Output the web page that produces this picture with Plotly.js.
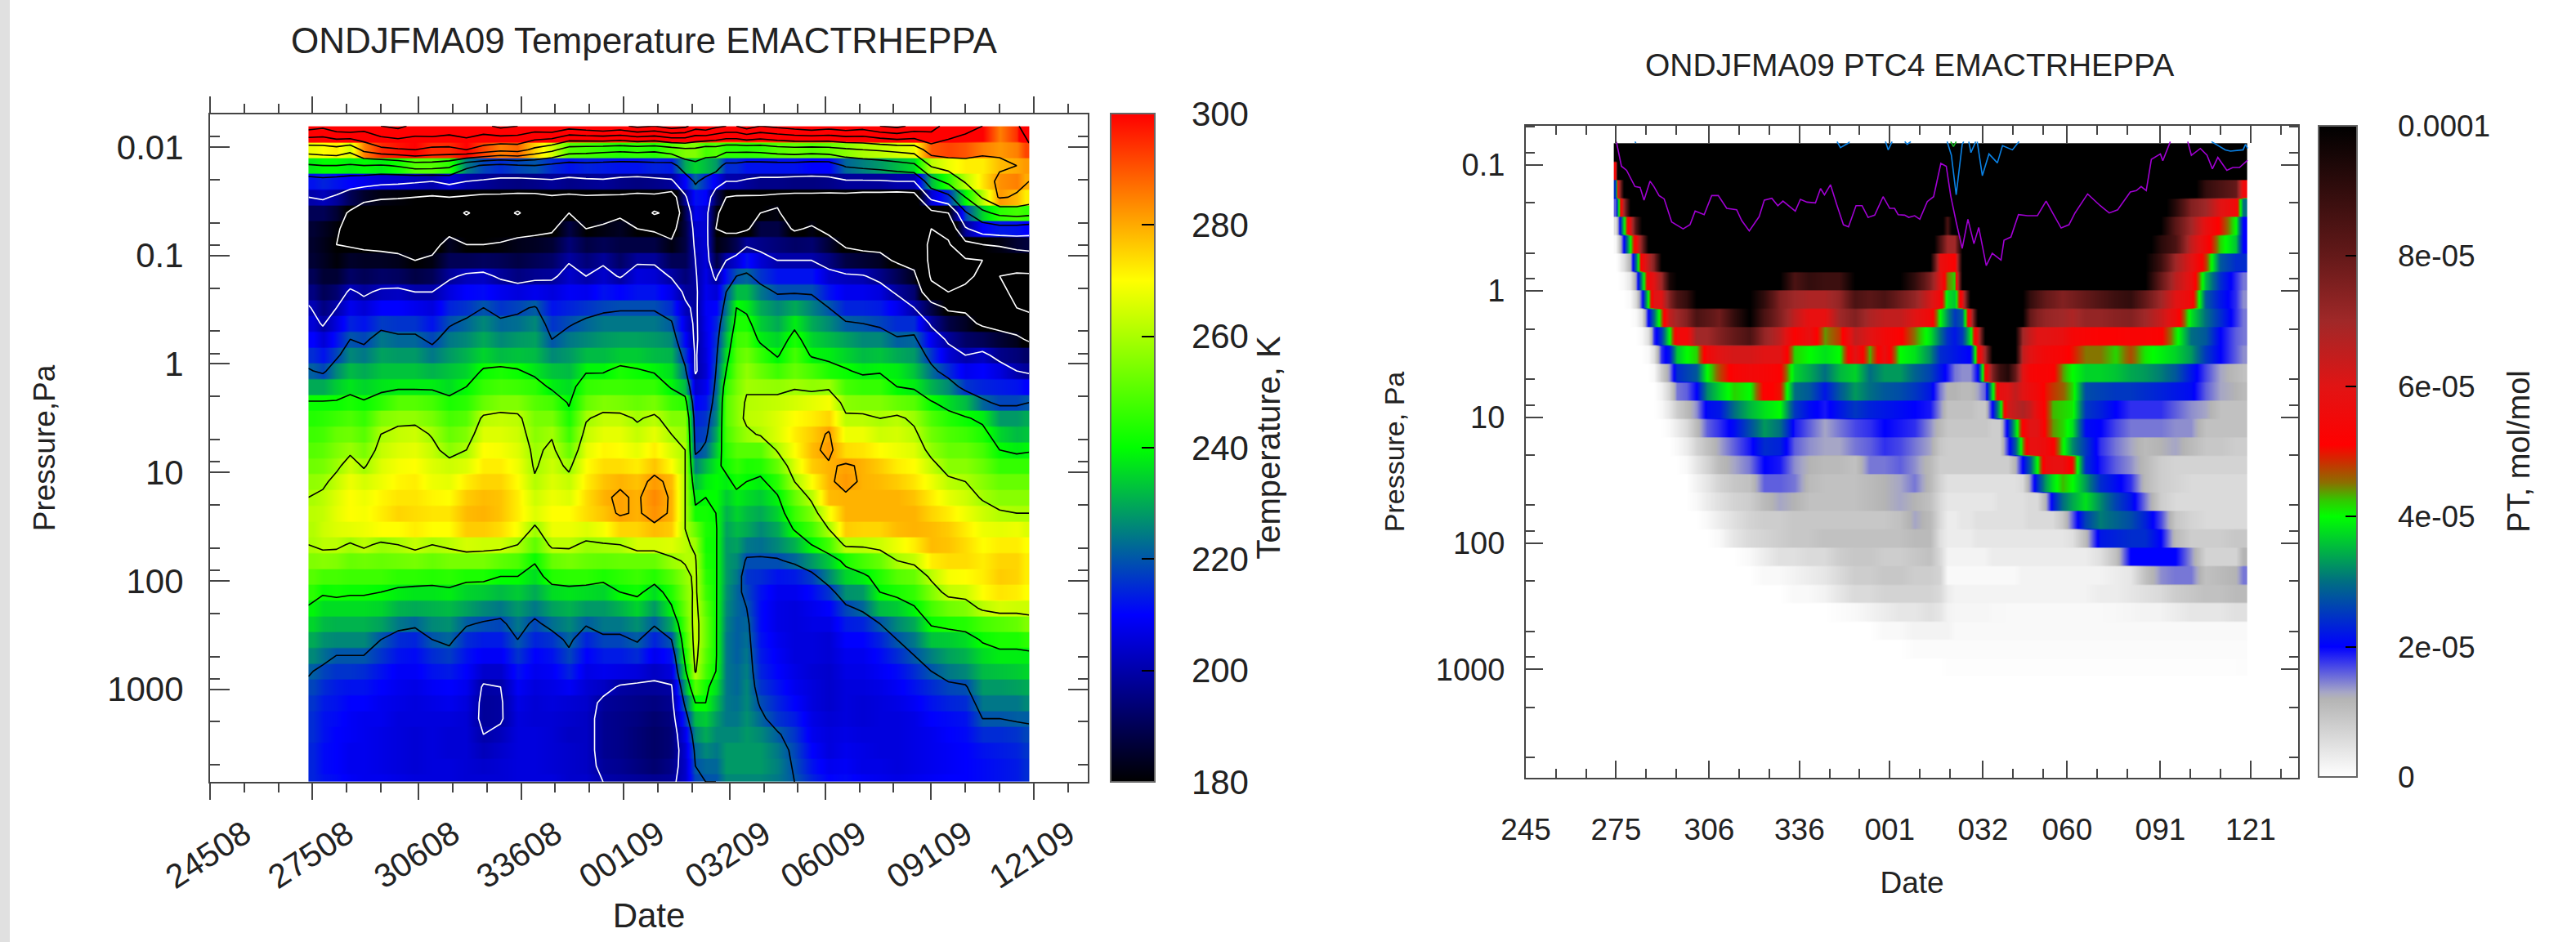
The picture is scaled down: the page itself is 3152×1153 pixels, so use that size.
<!DOCTYPE html>
<html><head><meta charset="utf-8">
<script src="https://cdn.plot.ly/plotly-3.0.1.min.js"></script>
<style>html,body{margin:0;padding:0;background:#fff}</style></head>
<body><div id="chart" style="width:3152px;height:1153px"></div>
<script>
// ---------- shared axis labels ----------
const tickDays=[245,275,306,336,366,397,425,456,486];
const leftDateLabels=['24508','27508','30608','33608','00109','03209','06009','09109','12109'];
const rightDateLabels=['245','275','306','336','001','032','060','091','121'];
const minorDays=[255,265,285,295,316,326,346,356,376,386,407,417,435,445,466,476,496];
const pressureTicks=[0.01,0.1,1,10,100,1000];
const pressureTickLabels=['0.01','0.1','1','10','100','1000'];
const pressureMinor=[0.005,0.008,0.02,0.05,0.08,0.2,0.5,0.8,2,5,8,20,50,80,200,500,800,2000,5000];
// model level cell edges and centres (Pa)
const levelEdges=[0.0064,0.00895,0.01252,0.01752,0.02451,0.03428,0.04794,0.06706,0.0938,0.1312,0.1835,0.2567,0.359,0.5023,0.7025,0.9826,1.374,1.923,2.689,3.762,5.262,7.36,10.29,14.4,20.14,28.17,39.41,55.12,77.09,107.8,150.8,211,295.1,412.8,577.5,807.6,1130,1580,2210,3092,4325,6050,7161];
const levelCentres=[0.0064,0.01059,0.01482,0.02072,0.02899,0.04054,0.0567,0.0793,0.1109,0.1551,0.217,0.3035,0.4246,0.5938,0.8307,1.162,1.625,2.273,3.18,4.447,6.223,8.704,12.17,17.03,23.82,33.31,46.6,65.18,91.2,127.5,178.4,249.5,349,488.1,682.8,955,1336,1869,2614,3656,5114,7161];
// ---------- left panel: temperature, one vertical profile per day ----------
const tempDays=[275.2,278,282,286,290,295,300,305,310,315,320,325,330,335,340,345,350,355,360,365,370,375,380,384,387,390,393,396,399,402,406,411,416,421,426,431,436,441,446,451,456,461,466,471,476,481,483.4];
const tempProfiles=[
[330,268,238,212,200,190,186,185,186,190,195,201,205,210,215,221,230,241,244,247,250,253,257,260,262,261,260,255,250,245,239,235,230,226,221,218,216,215,215,214,214,214],
[325,270,240,214,202,190,184,183,184,186,190,195,199,205,212,218,230,241,245,248,251,254,258,262,263,264,262,256,248,241,236,232,227,223,218,215,213,212,212,211,211,212],
[335,272,240,212,198,186,181,180,181,186,193,200,206,212,218,226,234,241,247,252,255,258,263,266,267,266,262,255,248,242,236,231,226,220,216,213,212,211,210,210,210,211],
[340,265,238,210,190,178,177,179,185,192,202,208,214,220,226,232,237,243,249,253,258,264,268,270,270,267,259,252,247,241,236,231,226,220,216,212,210,209,209,208,208,209],
[330,285,240,208,185,170,172,178,184,190,198,205,212,218,224,230,235,241,246,250,254,259,265,268,269,268,262,253,247,241,236,231,226,220,215,212,210,208,208,208,208,208],
[340,295,238,205,182,168,172,177,184,192,202,210,217,224,229,233,237,245,255,260,263,266,268,271,272,270,258,252,247,240,235,229,220,216,212,210,208,208,207,207,207,208],
[345,298,242,204,181,170,173,176,183,191,203,210,216,222,228,233,238,250,257,263,266,269,271,273,275,270,260,253,245,238,231,224,215,212,209,208,207,206,206,206,206,207],
[335,300,250,202,180,170,172,176,180,188,200,208,216,222,228,233,238,250,257,264,267,270,272,273,274,272,263,254,245,237,230,222,214,211,209,207,206,206,205,205,205,206],
[340,295,250,200,178,168,172,176,182,190,200,206,212,218,224,231,238,248,254,259,263,266,268,271,273,270,260,252,244,237,231,226,220,215,212,209,207,206,206,206,206,206],
[335,295,245,205,180,170,176,184,190,198,206,214,219,224,228,233,236,243,248,252,256,264,267,270,273,270,262,254,245,238,232,227,222,217,213,210,208,206,205,205,206,206],
[340,300,225,200,178,158,174,180,190,202,210,216,222,226,231,235,240,245,250,255,260,266,272,276,278,276,265,254,243,235,229,221,215,212,210,208,206,205,205,205,205,205],
[335,292,218,198,176,168,172,180,191,203,211,220,226,230,235,241,246,252,262,266,270,272,275,278,279,276,264,254,243,234,226,219,213,209,204,199,198,198,200,202,204,205],
[345,285,215,196,176,168,174,181,190,198,208,216,222,226,232,243,248,255,263,266,269,272,275,277,277,274,264,251,240,232,224,218,213,209,204,200,199,199,202,204,205,205],
[340,288,218,195,175,158,176,183,188,195,206,218,223,228,233,241,247,255,262,264,266,268,270,272,272,269,260,249,240,234,228,224,220,216,212,209,207,206,206,206,206,206],
[335,275,220,196,175,170,177,184,190,197,208,221,226,229,232,237,245,250,254,256,258,259,261,264,266,258,251,241,236,230,224,218,214,210,208,206,205,205,206,206,206,206],
[340,265,215,198,178,170,178,186,192,198,206,212,216,220,226,233,238,248,254,259,262,264,266,268,270,268,262,252,244,236,229,223,216,212,209,207,206,205,205,205,205,206],
[330,250,212,196,176,180,188,194,199,204,209,214,219,224,228,232,236,239,243,247,252,258,263,266,270,268,262,254,245,237,231,226,222,218,214,209,205,204,203,204,204,204],
[335,248,214,197,178,170,180,188,194,200,208,216,222,226,232,239,246,252,259,263,267,270,272,274,274,266,258,252,245,236,228,221,214,210,207,205,204,203,203,203,203,204],
[340,246,213,198,177,175,182,190,198,204,212,218,224,228,232,239,247,255,263,267,271,274,277,279,277,269,259,251,243,235,228,224,218,213,208,203,198,197,197,197,198,200],
[335,244,212,196,177,178,184,188,192,199,210,219,224,229,234,243,247,254,263,267,270,274,279,281,281,275,260,252,245,240,231,224,218,213,207,199,197,196,196,196,197,199],
[345,246,212,195,175,172,180,188,198,206,212,219,224,229,234,241,246,252,259,263,267,272,277,279,279,275,265,252,247,242,235,227,221,215,206,198,196,195,194,194,195,198],
[340,244,214,196,176,158,178,188,198,205,212,219,224,228,232,239,246,254,262,267,272,277,282,284,283,278,265,252,244,236,228,221,214,208,203,198,195,193,192,192,193,197],
[350,250,213,198,170,165,176,182,190,199,207,215,221,226,231,236,239,247,255,260,265,270,278,279,279,276,266,258,250,244,239,230,220,212,206,199,197,195,194,194,196,198],
[345,255,230,210,198,190,188,188,190,194,198,202,206,210,216,222,232,245,255,258,260,260,260,260,260,260,262,261,257,255,253,250,247,243,238,230,222,215,208,205,204,204],
[330,255,235,222,212,208,204,202,200,199,198,198,198,198,199,199,204,210,214,216,218,225,232,238,242,252,258,261,262,262,263,264,264,263,261,250,240,232,226,222,220,218],
[335,248,232,215,210,205,205,205,206,207,208,209,208,207,206,205,208,212,216,218,222,232,238,240,242,243,242,243,245,247,250,252,252,250,248,242,240,234,230,226,222,220],
[325,250,228,208,190,182,180,182,188,198,205,210,214,216,218,220,222,224,226,230,234,238,240,240,240,241,241,241,241,241,241,241,241,241,240,236,232,228,226,224,222,220],
[320,245,215,200,180,175,178,185,200,212,220,224,228,232,236,240,246,250,250,248,245,242,238,234,231,229,228,228,228,227,226,225,224,224,224,224,224,224,226,228,228,226],
[320,245,215,200,178,170,176,190,205,220,232,240,243,247,250,252,254,256,256,254,250,246,242,238,235,232,229,226,224,222,222,221,221,221,222,222,223,224,226,228,228,226],
[330,245,212,198,178,170,178,198,212,222,232,238,243,248,253,257,259,261,262,258,250,243,240,236,232,230,224,219,216,218,220,222,223,224,225,226,226,227,228,228,228,226],
[320,246,212,196,178,180,188,196,205,216,224,230,234,238,246,252,258,262,263,261,250,244,238,234,230,226,223,219,215,212,211,211,212,213,214,216,219,222,226,228,228,226],
[325,250,212,196,176,182,188,194,200,212,219,226,230,235,239,247,257,263,266,266,261,252,245,239,235,230,226,219,212,208,207,207,208,209,210,212,214,216,221,224,225,224],
[330,252,212,195,175,170,178,192,200,212,219,230,238,243,248,252,259,265,270,272,270,266,260,252,247,241,231,222,213,208,206,206,206,206,207,208,210,213,216,218,219,220],
[335,250,210,195,175,172,182,193,200,212,219,225,230,235,239,248,257,267,272,276,278,276,270,262,255,248,240,228,217,211,208,207,206,206,205,206,206,207,208,210,212,214],
[330,252,210,196,174,168,176,186,195,204,212,220,226,232,238,243,258,269,275,281,282,279,279,278,269,260,248,234,226,216,210,207,205,205,204,204,204,205,206,206,208,210],
[335,256,222,198,174,168,174,178,188,202,208,214,221,229,235,241,248,256,262,268,274,281,282,279,279,276,262,243,235,227,218,213,210,208,207,206,206,206,207,208,209,211],
[330,260,225,198,172,166,172,176,186,201,208,214,220,226,232,238,246,255,262,268,273,279,279,279,279,275,262,248,238,228,222,214,210,208,207,206,205,205,206,207,207,209],
[340,262,228,198,172,165,170,176,184,196,206,213,218,226,233,239,246,255,260,264,270,276,278,279,279,275,264,252,244,240,232,220,214,211,209,207,206,206,206,206,207,208],
[345,265,232,200,170,165,168,172,178,190,198,208,215,221,230,238,240,252,262,265,268,272,276,279,279,278,268,260,250,243,234,226,220,215,211,209,207,206,206,206,206,207],
[335,268,236,200,172,165,162,170,175,183,193,200,215,222,228,233,238,250,258,262,266,270,273,277,279,279,272,263,252,246,239,230,224,220,215,212,209,207,207,207,207,208],
[330,290,262,232,205,175,160,157,156,158,165,188,198,208,216,223,231,241,249,253,257,263,268,272,275,278,278,272,262,255,248,241,233,225,220,215,212,210,208,208,208,209],
[310,292,268,245,215,180,165,158,155,156,160,178,188,198,205,215,226,236,244,249,252,256,262,267,272,276,277,274,269,263,253,243,234,229,224,218,214,211,210,209,209,210],
[305,290,272,262,240,218,198,175,158,158,162,178,184,192,200,208,216,232,241,247,252,256,260,264,268,272,274,274,270,264,255,244,236,231,226,219,215,212,211,210,210,210],
[300,285,272,273,262,235,210,180,160,162,165,168,178,190,203,210,214,222,238,243,248,252,256,259,264,268,270,272,272,270,262,248,241,236,232,228,224,220,215,212,211,211],
[285,282,278,283,282,245,213,182,165,160,162,166,175,186,196,206,213,218,228,235,240,246,252,256,261,267,272,275,276,273,265,250,243,238,233,228,224,220,215,213,212,212],
[295,285,280,285,278,248,212,186,168,158,158,160,172,183,194,200,212,218,228,232,238,246,252,256,260,268,272,275,275,272,264,252,243,238,234,229,224,221,216,214,213,213],
[320,292,282,280,272,246,210,187,170,158,156,158,165,178,192,198,210,220,230,233,239,246,252,256,260,266,270,272,272,270,264,255,245,238,235,230,226,221,218,216,215,215]
];
const tempColours=[[0,'#000000'],[0.25,'#0000ff'],[0.5,'#00ff00'],[0.75,'#ffff00'],[1,'#ff0000']];
const tempBarTicks=[180,200,220,240,260,280,300];
// ---------- right panel: PT in units of 1e-6 mol/mol, one row per level, from level 7 down ----------
const ptDays=[274.7,275.6,277.6,279.6,281.6,283.6,285.6,287.6,290.1,292.6,295.1,298.5,301.8,305.1,309.3,314.3,319.3,324.3,329.3,334.3,339.3,344.3,349.3,354.3,359.3,364.3,369.3,374.3,379.3,382.6,385.1,387.6,390.1,392.6,395.1,397.6,400.1,402.6,405.1,407.6,410.1,412.6,415.1,417.6,420.1,423.4,426.8,431,436,441,446,451,456,461,466,471,476,481,483.5];
const ptMicro=[
[120,120,120,120,120,120,120,120,120,120,120, 120,120,120,120,120,120,120,120,120,120,120,120,120,120,120,120,120,120, 120,120,120,120,120,120,120,120,120,120,120,120,120,120,120,120, 120,120,120,120,120,120,120,120,120,120,120,120,120,120],
[55,120,120,120,120,120,120,120,120,120,120, 120,120,120,120,120,120,120,120,120,120,120,120,120,120,120,120,120,120, 120,120,120,120,120,120,120,120,120,120,120,120,120,120,120,120, 120,120,120,120,120,120,120,120,120,120,120,120,120,120],
[25,60,100,110,110,110,110,110,110,110,110, 120,120,120,120,120,120,120,120,120,120,120,120,120,120,120,120,120,120, 120,120,120,120,120,120,120,120,120,120,120,120,120,120,120,120, 120,120,120,120,120,120,120,120,110,105,90,85,80,55],
[16,35,70,100,110,110,110,110,110,110,110, 120,120,120,120,120,120,120,120,120,120,120,120,120,120,120,120,120,120, 120,120,120,120,120,120,120,120,120,120,120,120,120,120,120,120, 115,115,115,115,115,115,110,105,92,75,70,60,55,30],
[5,14,38,60,85,100,110,110,110,110,110, 120,120,120,120,120,120,120,120,120,120,120,120,120,120,120,120,120,120, 110,85,110,115,115,115,115,115,115,115,115,115,115,115,115,115, 115,115,115,115,115,115,110,100,82,70,58,50,40,20],
[1,6,20,40,55,75,100,110,110,110,110, 110,110,110,110,110,110,110,110,110,110,110,110,110,110,110,110,110,110, 85,70,70,100,110,110,110,110,110,110,110,110,110,110,110,110, 110,110,110,110,110,110,105,92,85,65,55,42,36,20],
[0,1,5,12,30,55,65,75,100,110,110, 110,110,110,110,110,110,110,110,110,110,110,110,110,110,110,110,110,100, 58,55,52,100,110,110,110,110,110,110,110,110,110,110,110,110, 110,110,110,110,110,110,100,88,70,60,48,28,24,24],
[0,0,1,4,14,33,55,60,70,95,100, 105,110,110,110,110,110,105,100,85,90,88,88,100,100,100,100,90,75, 60,45,42,100,110,110,110,110,110,110,110,110,110,110,110,110, 110,110,108,105,105,105,100,80,66,58,35,24,18,15],
[0,0,0,1,6,18,40,60,60,75,85, 90,100,100,100,100,100,90,75,70,68,68,72,85,82,85,78,72,62, 55,38,36,58,100,110,110,110,110,110,110,100,90,85,80,78, 75,77,80,84,88,90,80,70,60,55,28,22,18,14],
[0,0,0,0,1,5,20,30,45,65,70, 75,85,82,78,90,100,85,75,65,58,58,70,75,68,65,65,60,55, 40,32,25,28,60,100,110,110,110,110,105,100,80,75,72,71, 70,68,72,72,74,75,70,64,56,38,30,24,18,15],
[0,0,0,0,0,1,5,18,25,40,55, 55,70,70,75,80,85,72,65,52,58,44,48,65,60,55,52,45,38, 30,24,22,25,38,60,100,110,110,110,100,70,64,60,60,59, 58,54,53,52,52,53,53,52,42,30,28,20,16,15],
[0,0,0,0,0,0,1,5,18,22,36, 40,42,55,60,62,62,60,60,42,40,38,40,60,43,58,40,38,32, 24,23,22,21,20,50,70,100,105,105,100,65,60,57,55,54, 53,50,45,45,42,47,41,39,37,33,25,20,16,14],
[0,0,0,0,0,0,0,1,8,14,24, 26,28,40,47,53,55,54,52,37,34,30,35,37,30,33,33,29,26, 22,19,15,14,14,20,50,75,88,93,80,60,54,53,53,52, 44,40,37,37,36,34,33,31,28,22,17,13,11,10],
[0,0,0,0,0,0,0,0,2,7,15, 16,20,32,37,42,40,52,50,30,28,22,28,33,30,28,27,25,22, 15,12,12,11,11,13,16,38,58,60,65,60,57,55,50,48, 46,42,27,26,25,25,24,23,22,21,16,13,12,11],
[0,0,0,0,0,0,0,0,1,4,8, 11,14,21,22,30,35,38,40,25,21,19,22,25,23,22,21,20,19, 14,10,10,10,10,9,9,20,36,62,65,68,64,57,50,43, 42,41,25,23,20,18,18,18,16,14,13,10,10,10],
[0,0,0,0,0,0,0,0,0,1,3, 6,11,16,18,21,27,33,30,19,16,13,15,17,18,20,19,18,14, 11,9,9,9,9,9,9,8,8,22,36,52,60,60,50,44, 42,38,21,20,17,15,15,15,14,14,10,10,10,10],
[0,0,0,0,0,0,0,0,0,0,1, 3,7,10,13,16,19,24,23,16,14,13,13,15,16,18,17,15,13, 9,8,8,8,8,8,8,8,8,18,28,44,58,58,56,52, 41,32,25,18,15,13,11,12,13,11,9,9,8,8],
[0,0,0,0,0,0,0,0,0,0,0, 1,4,7,11,13,15,20,19,14,12,11,11,10,15,15,16,14,11, 8,8,8,8,8,8,8,8,8,8,12,20,28,40,56,58, 58,50,24,19,16,14,11,8,7,7,7,7,7,7],
[0,0,0,0,0,0,0,0,0,0,0, 0,2,4,7,9,10,16,16,15,11,10,10,10,11,12,13,15,11, 7,5,5,5,5,5,5,5,5,5,5,6,14,24,33,38, 43,40,33,24,21,18,11,8,7,6,6,6,6,6],
[0,0,0,0,0,0,0,0,0,0,0, 0,1,3,5,7,8,11,13,12,10,10,10,10,11,12,13,12,10, 6,4,4,4,4,4,4,4,5,5,5,5,6,6,12,22, 30,34,38,32,26,22,15,8,6,6,6,6,6,6],
[0,0,0,0,0,0,0,0,0,0,0, 0,0,1,3,5,7,8,8,9,9,9,9,9,9,9,10,13,11, 6,3,3,4,4,5,5,5,5,5,5,5,6,6,6,6, 9,16,26,31,29,27,23,17,9,7,6,6,6,6],
[0,0,0,0,0,0,0,0,0,0,0, 0,0,0,1,4,6,7,8,9,9,10,10,10,10,10,10,11,11, 5,3,3,3,3,4,4,4,4,4,4,4,4,4,4,4, 4,5,11,22,23,24,24,20,11,8,8,8,9,9],
[0,0,0,0,0,0,0,0,0,0,0, 0,0,0,0,0,1,3,5,5,6,6,8,9,9,8,8,9,10, 6,2,2,2,2,2,2,3,3,3,3,3,3,3,3,3, 3,3,3,5,10,20,20,20,20,14,7,7,7,12],
[0,0,0,0,0,0,0,0,0,0,0, 0,0,0,0,0,0,1,1,2,3,4,6,8,8,9,9,8,8, 7,1,1,1,1,1,1,1,1,1,1,2,2,2,2,2, 2,2,2,2,3,4,10,14,15,15,10,11,12,15],
[0,0,0,0,0,0,0,0,0,0,0, 0,0,0,0,0,0,0,0,1,1,2,4,6,6,7,7,7,7, 6,3,2,2,2,2,2,2,2,2,2,2,2,2,2,2, 2,2,2,3,3,4,5,6,8,9,10,10,11,11],
[0,0,0,0,0,0,0,0,0,0,0, 0,0,0,0,0,0,0,0,0,0,0,0.5,1,2,3,4,4,5, 4,2,1.5,1.5,1.5,1.5,1.5,1.2,1.2,1,1,1,1,1,1,1, 1,1,1,1,1.2,1.5,2,2,3,4,4,4,5,5],
[0,0,0,0,0,0,0,0,0,0,0, 0,0,0,0,0,0,0,0,0,0,0,0,0,0,1,1,2,2, 2,2,1,1,1,1,1,1,1,1,1,1,1,1,1,1, 1,1,1,1,1,1,1,1,1,1,1,1,1,1],
[0,0,0,0,0,0,0,0,0,0,0, 0,0,0,0,0,0,0,0,0,0,0,0,0,0,0,0,0.6,0.6, 0.6,0.6,0.6,0.6,0.6,0.6,0.6,0.6,0.6,0.6,0.6,0.6,0.6,0.6,0.6,0.6, 0.6,0.6,0.6,0.6,0.6,0.6,0.6,0.6,0.6,0.6,0.6,0.6,0.6,0.7],
[0,0,0,0,0,0,0,0,0,0,0, 0,0,0,0,0,0,0,0,0,0,0,0,0,0,0,0,0,0, 0,0.3,0.4,0.4,0.4,0.4,0.4,0.4,0.4,0.4,0.4,0.4,0.4,0.4,0.4,0.4, 0.4,0.4,0.4,0.4,0.4,0.4,0.4,0.4,0.4,0.4,0.4,0.4,0.4,0.5]
];
const ptFirstLevel=7;
const ptColours=[[0,'#ffffff'],[0.12,'#b4b4b4'],[0.13,'#a6a6c6'],[0.2,'#0000ff'],[0.3,'#006e82'],[0.4,'#00ff00'],[0.425,'#32c800'],[0.452,'#8c6e00'],[0.482,'#c83200'],[0.51,'#ff0000'],[0.6,'#e11414'],[0.7,'#a02828'],[0.8,'#641919'],[1,'#000000']];
const ptBarTicks=[0,2e-5,4e-5,6e-5,8e-5,1e-4];
const ptBarLabels=['0','2e-05','4e-05','6e-05','8e-05','0.0001'];
// contour lines of PT above the colour range
const purpleDay=[275.1,276.8,278.5,281.3,283,284.3,286.3,287.6,289.3,291,293.5,297.3,299.6,301.3,304.3,306.8,309,311.8,315.1,316.8,319.3,322.6,324.3,326.8,328.8,330.5,333.5,334.6,336.3,338.5,341.3,343,344.3,346.3,348.5,350.6,352.3,354.8,356.8,358.8,361,363.8,366,367.6,368.8,371,372.3,374.3,376,378.5,380.6,383,384.8,386.3,388.1,390.1,392,394,395.6,398.1,400.1,403,404,406.3,408.8,411.8,415.1,418,420.1,423,425.6,427.6,431.8,436,439,441.8,446,448,449.6,451.3,453,456,456.8,459.3,null,465.1,466.3,469.3,471.5,473.3,475.1,478.1,480.1,482.3,485];
const purpleP=[0.0655,0.1026,0.1105,0.1488,0.151,0.1908,0.1347,0.1488,0.1754,0.1862,0.2841,0.3217,0.2985,0.2328,0.2483,0.1754,0.1754,0.2215,0.2271,0.2771,0.3346,0.2571,0.1908,0.1843,0.2108,0.1937,0.2215,0.2328,0.188,0.1976,0.2005,0.1541,0.1728,0.1438,0.2108,0.2985,0.3106,0.2108,0.2108,0.261,0.2508,0.1789,0.2215,0.2215,0.2483,0.2508,0.261,0.2533,0.2703,0.1956,0.1789,0.0975,0.1026,0.1771,0.2841,0.46,0.2703,0.4227,0.3137,0.629,0.5028,0.5696,0.3963,0.3733,0.2483,0.2533,0.2533,0.1937,0.2386,0.3169,0.2985,0.241,0.1702,0.2108,0.241,0.2271,0.1644,0.1603,0.1488,0.1603,0.0905,0.082,0.0928,0.0655,null,0.0655,0.084,0.0742,0.084,0.1077,0.0874,0.1105,0.1051,0.1051,0.0919];
const blueDay=[281.3,281.6,null,348.5,349.6,352.3,352.6,null,364.6,365.5,366.8,null,371,371.8,373,null,385.1,386.5,388.1,390.1,390.6,null,392.3,393,394.6,null,395.1,396.8,399,401.8,403.5,406.8,409,null,473,477.6,479.3,483.5,484.3,485];
const blueP=[0.0655,0.0672,null,0.0655,0.0731,0.0672,0.0655,null,0.0655,0.0761,0.0655,null,0.0655,0.0689,0.0655,null,0.0655,0.084,0.1728,0.0689,0.0655,null,0.0655,0.08,0.0655,null,0.0655,0.122,0.082,0.0966,0.0706,0.0761,0.0655,null,0.0655,0.0761,0.078,0.0761,0.0689,0.0742];
const greenDay=[386.3,387.2,388.1];
const greenP=[0.0655,0.0717,0.0655];

// ---------- build heatmap grids: cells flat in height, smooth in time ----------
function stepRows(rows,edges){
  const f=1.012,y=[],z=[];
  rows.forEach((row,i)=>{
    y.push(edges[i]*f,edges[i]*f*f,edges[i+1]/(f*f),edges[i+1]/f);
    z.push(row,row,row,row);
  });
  return {y,z};
}
const tempRows=levelCentres.map((_,r)=>tempProfiles.map(p=>p[r]));
const leftGrid=stepRows(tempRows,levelEdges);
const ptRows=ptMicro.map(r=>r.map(v=>v*1e-6));
const rightGrid=stepRows(ptRows,levelEdges.slice(ptFirstLevel));
const contourDays=tempDays.slice();contourDays[0]=273.8;contourDays[contourDays.length-1]=484.6;

const ink='#222222',frame='#444444',W=3152,H=1153;
const lead='\u00a0\u00a0\u00a0\u00a0',sp4=lead;
const px=(a,b)=>[a/W,b/W],py=(top,bot)=>[1-bot/H,1-top/H];
function xAxis(o){return Object.assign({range:[245,501.8],tickmode:'array',tickvals:tickDays,showgrid:false,zeroline:false,showline:true,linecolor:frame,linewidth:2,mirror:'ticks',tickcolor:frame,tickwidth:2},o);}
function yAxis(o){return Object.assign({type:'log',tickmode:'array',tickvals:pressureTicks,ticktext:pressureTickLabels,showgrid:false,zeroline:false,showline:true,linecolor:frame,linewidth:2,mirror:'ticks',ticks:'inside',tickcolor:frame,tickwidth:2},o);}
const traces=[
 {type:'heatmap',x:tempDays,y:leftGrid.y,z:leftGrid.z,zsmooth:'best',zmin:180,zmax:300,colorscale:tempColours,hoverinfo:'skip',xaxis:'x',yaxis:'y',
  colorbar:{x:1359/W,xanchor:'left',y:1-957/H,yanchor:'bottom',len:818,lenmode:'pixels',thickness:54,thicknessmode:'pixels',xpad:0,ypad:0,outlinecolor:'#666',outlinewidth:2,borderwidth:0,
   tickmode:'array',tickvals:tempBarTicks,ticktext:tempBarTicks.map(v=>'\u00a0\u00a0\u00a0'+v),ticks:'inside',ticklen:17,tickwidth:1.5,tickcolor:'#000',tickfont:{family:'Liberation Sans',size:42,color:ink},
   title:{text:'Temperature, K',side:'right',font:{family:'Liberation Sans',size:40,color:ink}}}},
 {type:'contour',x:contourDays,y:levelCentres,z:tempRows,showscale:false,autocontour:false,contours:{coloring:'none',start:120,end:200,size:20},line:{color:'#ffffff',width:1.6,smoothing:0},hoverinfo:'skip',xaxis:'x',yaxis:'y'},
 {type:'contour',x:contourDays,y:levelCentres,z:tempRows,showscale:false,autocontour:false,contours:{coloring:'none',start:220,end:380,size:20},line:{color:'#000000',width:1.6,smoothing:0},hoverinfo:'skip',xaxis:'x',yaxis:'y'},
 {type:'heatmap',x:ptDays,y:rightGrid.y,z:rightGrid.z,zsmooth:'best',zmin:0,zmax:1e-4,colorscale:ptColours,hoverinfo:'skip',xaxis:'x2',yaxis:'y2',
  colorbar:{x:2837/W,xanchor:'left',y:1-951/H,yanchor:'bottom',len:797,lenmode:'pixels',thickness:47,thicknessmode:'pixels',xpad:0,ypad:0,outlinecolor:'#666',outlinewidth:2,borderwidth:0,
   tickmode:'array',tickvals:ptBarTicks,ticktext:ptBarLabels.map(v=>'\u00a0\u00a0\u00a0\u00a0'+v+'\u00a0\u00a0\u00a0'),ticks:'inside',ticklen:15,tickwidth:1.5,tickcolor:'#000',tickfont:{family:'Liberation Sans',size:37,color:ink},
   title:{text:'PT, mol/mol',side:'right',font:{family:'Liberation Sans',size:38,color:ink}}}},
 {type:'scatter',mode:'lines',x:purpleDay,y:purpleP,line:{color:'#a000d2',width:1.6},hoverinfo:'skip',showlegend:false,xaxis:'x2',yaxis:'y2'},
 {type:'scatter',mode:'lines',x:blueDay,y:blueP,line:{color:'#0a82e6',width:1.6},hoverinfo:'skip',showlegend:false,xaxis:'x2',yaxis:'y2'},
 {type:'scatter',mode:'lines',x:greenDay,y:greenP,line:{color:'#14b41e',width:1.6},hoverinfo:'skip',showlegend:false,xaxis:'x2',yaxis:'y2'}
];
const layout={
 width:W,height:H,margin:{l:0,r:0,t:0,b:0},paper_bgcolor:'#ffffff',plot_bgcolor:'#ffffff',showlegend:false,
 font:{family:'Liberation Sans',color:ink},
 title:{text:'ONDJFMA09 Temperature EMACTRHEPPA',x:788/W,xref:'paper',xanchor:'center',y:1-50/H,yref:'paper',yanchor:'middle',font:{family:'Liberation Sans',size:44,color:ink}},
 xaxis:xAxis({domain:px(257,1331),anchor:'y',ticktext:leftDateLabels,ticks:'outside',ticklen:20,tickangle:-33,tickfont:{size:41,color:ink},ticklabelshift:42,ticklabelstandoff:2,
   minor:{tickmode:'array',tickvals:minorDays,ticks:'outside',ticklen:11,tickcolor:frame,tickwidth:2,showgrid:false},
   title:{text:'Date',font:{size:42,color:ink},standoff:0}}),
 yaxis:yAxis({domain:py(140,957),anchor:'x',range:[3.855,-2.3014],ticklen:24,tickfont:{size:42,color:ink},ticklabelstandoff:22,
   minor:{tickmode:'array',tickvals:pressureMinor,ticks:'inside',ticklen:12,tickcolor:frame,tickwidth:2,showgrid:false},
   title:{text:lead+'Pressure,Pa',font:{size:37,color:ink},standoff:52}}),
 xaxis2:xAxis({domain:px(1867,2812),anchor:'y2',ticktext:rightDateLabels,ticks:'inside',ticklen:21,tickangle:0,tickfont:{size:37,color:ink},ticklabelstandoff:30,
   minor:{tickmode:'array',tickvals:minorDays,ticks:'inside',ticklen:11,tickcolor:frame,tickwidth:2,showgrid:false},
   title:{text:'Date',font:{size:37,color:ink},standoff:32}}),
 yaxis2:yAxis({domain:py(154,952),anchor:'x2',range:[3.859,-1.309],ticklen:21,tickfont:{size:38,color:ink},ticklabelstandoff:16,
   minor:{tickmode:'array',tickvals:pressureMinor,ticks:'inside',ticklen:11,tickcolor:frame,tickwidth:2,showgrid:false},
   title:{text:sp4+'\u00a0'+'Pressure, Pa',font:{size:34,color:ink},standoff:28}}),
 annotations:[{text:'ONDJFMA09 PTC4 EMACTRHEPPA',xref:'paper',yref:'paper',x:2336/W,y:1-80/H,xanchor:'center',yanchor:'middle',showarrow:false,font:{family:'Liberation Sans',size:39,color:ink}}],
 shapes:[{type:'rect',xref:'paper',yref:'paper',x0:0,x1:12/W,y0:0,y1:1,fillcolor:'#e0e0e0',line:{width:0},layer:'below'}]
};
Plotly.newPlot('chart',traces,layout,{displayModeBar:false,responsive:false});
</script></body></html>
